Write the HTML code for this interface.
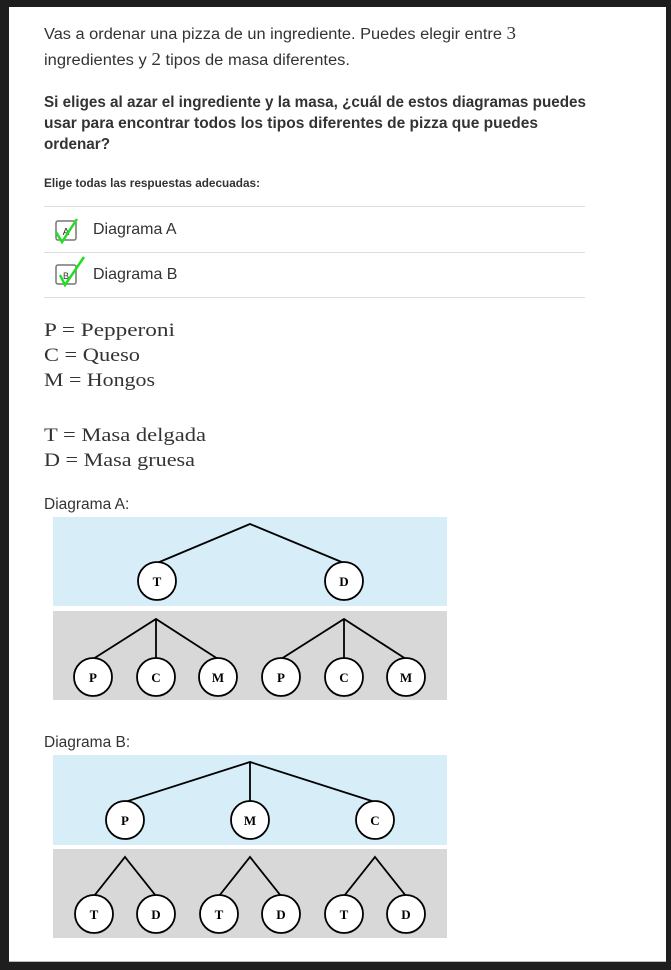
<!DOCTYPE html>
<html><head><meta charset="utf-8"><style>
html,body{margin:0;padding:0;background:#1e1e1e;width:671px;height:970px;overflow:hidden}
svg{display:block}
.t{font-family:"Liberation Sans",sans-serif;fill:#333}
.m{font-family:"Liberation Serif",serif;fill:#333;font-size:19px}
.n{font-family:"Liberation Serif",serif;fill:#000;font-size:13px;font-weight:bold;text-anchor:middle}
</style></head><body>
<svg width="671" height="970" xmlns="http://www.w3.org/2000/svg">
<rect x="0" y="0" width="671" height="970" fill="#1e1e1e"/>
<rect x="9" y="7" width="657" height="955" fill="#fff"/>
<rect x="9" y="961" width="657" height="1" fill="#bbb"/>
<g class="t" font-size="15.5">
<text x="44" y="39" textLength="472" lengthAdjust="spacingAndGlyphs">Vas a ordenar una pizza de un ingrediente. Puedes elegir entre <tspan font-family="Liberation Serif" font-size="18">3</tspan></text>
<text x="44" y="65" textLength="306" lengthAdjust="spacingAndGlyphs">ingredientes y <tspan font-family="Liberation Serif" font-size="18">2</tspan> tipos de masa diferentes.</text>
</g>
<g class="t" font-size="15.5" font-weight="bold">
<text x="44" y="107" textLength="542" lengthAdjust="spacingAndGlyphs">Si eliges al azar el ingrediente y la masa, ¿cuál de estos diagramas puedes</text>
<text x="44" y="128" textLength="494" lengthAdjust="spacingAndGlyphs">usar para encontrar todos los tipos diferentes de pizza que puedes</text>
<text x="44" y="149" textLength="66" lengthAdjust="spacingAndGlyphs">ordenar?</text>
<text x="44" y="187" font-size="11.5" textLength="216" lengthAdjust="spacingAndGlyphs">Elige todas las respuestas adecuadas:</text>
</g>
<g stroke="#ddd" stroke-width="1">
<line x1="44" y1="206.5" x2="585" y2="206.5"/>
<line x1="44" y1="252.5" x2="585" y2="252.5"/>
<line x1="44" y1="297.5" x2="585" y2="297.5"/>
</g>
<rect x="56" y="221" width="20" height="19" fill="#fff" stroke="#777" stroke-width="1.5" rx="2"/>
<text x="66" y="235" font-size="10" class="t" text-anchor="middle">A</text>
<path d="M56 232 L62 242 L77 219" fill="none" stroke="#22dd22" stroke-width="2.5"/>
<rect x="56" y="265" width="20" height="19" fill="#fff" stroke="#777" stroke-width="1.5" rx="2"/>
<text x="66" y="279" font-size="9" class="t" text-anchor="middle">B</text>
<path d="M60 275 L65 285 L84 257" fill="none" stroke="#22dd22" stroke-width="2.5"/>
<text x="93" y="234" class="t" font-size="16">Diagrama A</text>
<text x="93" y="279" class="t" font-size="16">Diagrama B</text>
<text x="44" y="336" class="m" textLength="131" lengthAdjust="spacingAndGlyphs">P = Pepperoni</text>
<text x="44" y="361" class="m" textLength="96" lengthAdjust="spacingAndGlyphs">C = Queso</text>
<text x="44" y="386" class="m" textLength="111" lengthAdjust="spacingAndGlyphs">M = Hongos</text>
<text x="44" y="441" class="m" textLength="162" lengthAdjust="spacingAndGlyphs">T = Masa delgada</text>
<text x="44" y="466" class="m" textLength="151" lengthAdjust="spacingAndGlyphs">D = Masa gruesa</text>
<text x="44" y="509" class="t" font-size="15.5">Diagrama A:</text>
<text x="44" y="747" class="t" font-size="15.5">Diagrama B:</text>
<!-- Diagram A -->
<rect x="53" y="517" width="394" height="89" fill="#d7eef8"/>
<rect x="53" y="611" width="394" height="89" fill="#d8d8d8"/>
<g stroke="#000" stroke-width="1.8" fill="none">
<path d="M157 563 L250 524 L344 563"/>
<path d="M93 659 L156 619 L218 659 M156 619 L156 659"/>
<path d="M281 659 L344 619 L406 659 M344 619 L344 659"/>
</g>
<g fill="#fff" stroke="#000" stroke-width="1.8">
<circle cx="157" cy="581" r="19"/><circle cx="344" cy="581" r="19"/>
<circle cx="93" cy="677" r="19"/><circle cx="156" cy="677" r="19"/><circle cx="218" cy="677" r="19"/>
<circle cx="281" cy="677" r="19"/><circle cx="344" cy="677" r="19"/><circle cx="406" cy="677" r="19"/>
</g>
<g class="n">
<text x="157" y="586">T</text><text x="344" y="586">D</text>
<text x="93" y="682">P</text><text x="156" y="682">C</text><text x="218" y="682">M</text>
<text x="281" y="682">P</text><text x="344" y="682">C</text><text x="406" y="682">M</text>
</g>
<!-- Diagram B -->
<rect x="53" y="755" width="394" height="90" fill="#d7eef8"/>
<rect x="53" y="849" width="394" height="89" fill="#d8d8d8"/>
<g stroke="#000" stroke-width="1.8" fill="none">
<path d="M125 802 L250 762 L375 802 M250 762 L250 802"/>
<path d="M94 896 L125 857 L156 896"/>
<path d="M219 896 L250 857 L281 896"/>
<path d="M344 896 L375 857 L406 896"/>
</g>
<g fill="#fff" stroke="#000" stroke-width="1.8">
<circle cx="125" cy="820" r="19"/><circle cx="250" cy="820" r="19"/><circle cx="375" cy="820" r="19"/>
<circle cx="94" cy="914" r="19"/><circle cx="156" cy="914" r="19"/><circle cx="219" cy="914" r="19"/>
<circle cx="281" cy="914" r="19"/><circle cx="344" cy="914" r="19"/><circle cx="406" cy="914" r="19"/>
</g>
<g class="n">
<text x="125" y="825">P</text><text x="250" y="825">M</text><text x="375" y="825">C</text>
<text x="94" y="919">T</text><text x="156" y="919">D</text><text x="219" y="919">T</text>
<text x="281" y="919">D</text><text x="344" y="919">T</text><text x="406" y="919">D</text>
</g>
</svg>
</body></html>
